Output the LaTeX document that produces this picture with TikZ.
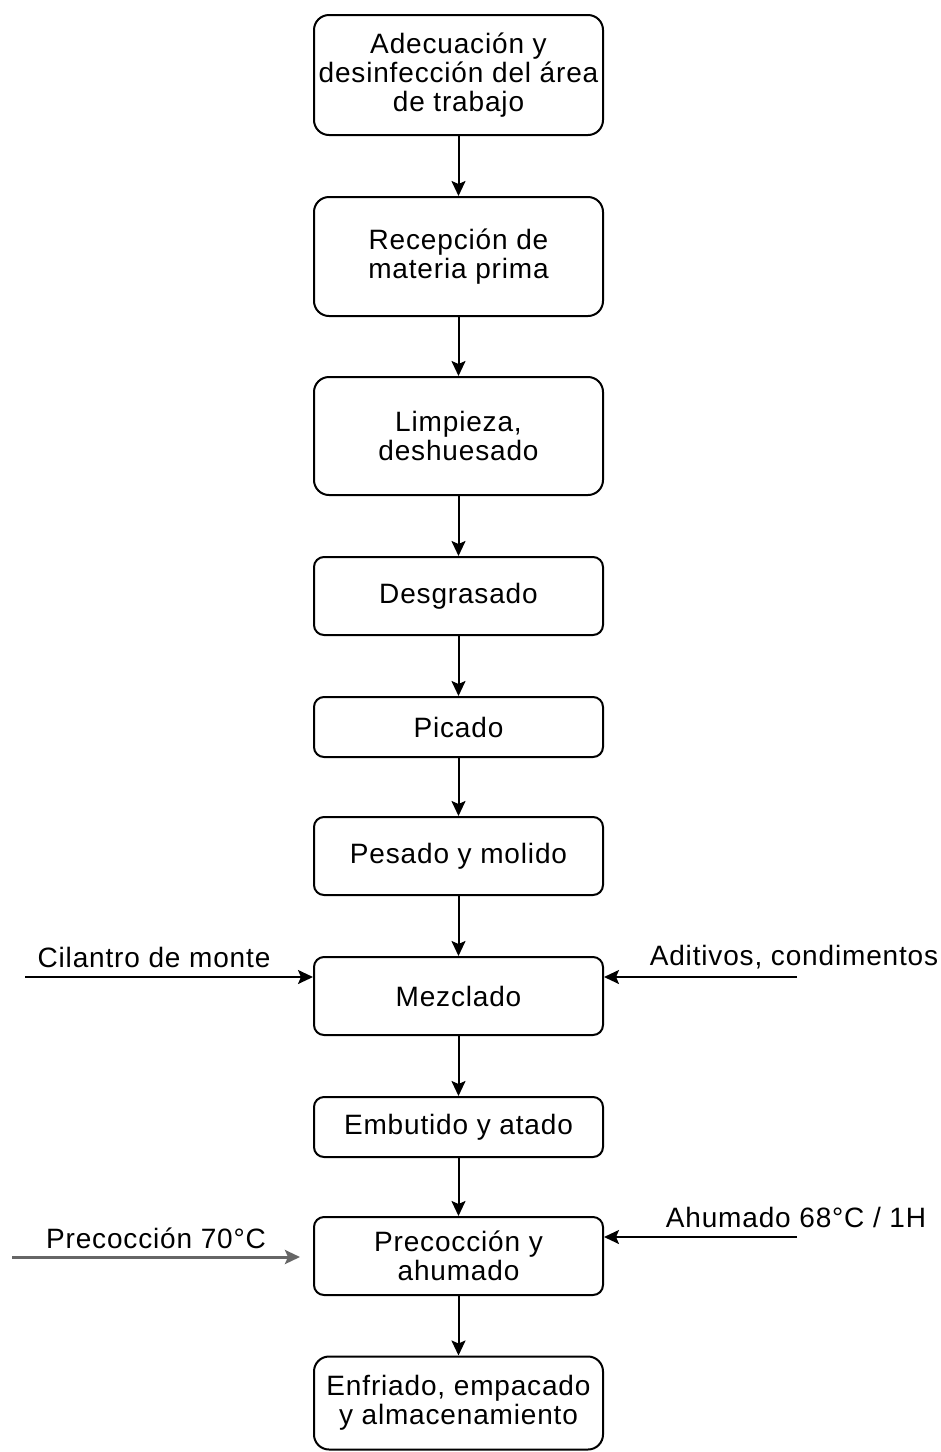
\documentclass[tikz,border=0pt]{standalone}
\usepackage{fontspec}
\setmainfont[LetterSpace=3]{Liberation Sans}
\usepackage{tikz}
\usetikzlibrary{arrows.meta}

\begin{document}
\begin{tikzpicture}[
    x=1pt,y=-1pt,
    >={Stealth[length=15pt,width=14pt,inset=3pt]},
    node font=\fontsize{28}{29}\selectfont,
    box/.style={draw,line width=2pt,rounded corners=15pt,align=center,minimum width=289pt,inner sep=2pt},
    smallbox/.style={box,rounded corners=10pt},
    arr/.style={->,line width=2pt},
    lbl/.style={inner sep=0pt}
]
\useasboundingbox (0,0) rectangle (941,1452);
\node[box,minimum height=120pt] (adec) at (458.5,75) {Adecuación y\\desinfección del área\\de trabajo};
\node[box,minimum height=119pt] (recep) at (458.5,256.5) {Recepción de\\materia prima};
\node[box,minimum height=118pt] (limp) at (458.5,436) {Limpieza,\\deshuesado};
\node[smallbox,minimum height=78pt] (desg) at (458.5,596) {Desgrasado};
\node[smallbox,minimum height=60pt] (pic) at (458.5,727) {Picado};
\node[smallbox,minimum height=78pt] (pes) at (458.5,856) {Pesado y molido};
\node[smallbox,minimum height=78pt] (mez) at (458.5,996) {Mezclado};
\node[smallbox,minimum height=60pt] (emb) at (458.5,1127) {Embutido y atado};
\node[smallbox,minimum height=78pt] (prec) at (458.5,1256) {Precocción y\\ahumado};
\node[box,minimum height=93pt] (enf) at (458.5,1403) {Enfriado, empacado\\y almacenamiento};
\draw[arr] (adec.south) -- (recep.north);
\draw[arr] (recep.south) -- (limp.north);
\draw[arr] (limp.south) -- (desg.north);
\draw[arr] (desg.south) -- (pic.north);
\draw[arr] (pic.south) -- (pes.north);
\draw[arr] (pes.south) -- (mez.north);
\draw[arr] (mez.south) -- (emb.north);
\draw[arr] (emb.south) -- (prec.north);
\draw[arr] (prec.south) -- (enf.north);

% side inputs
\coordinate (cil) at (25,977);
\coordinate (adit) at (797,977);
\coordinate (pre70) at (12,1257);
\coordinate (pre70e) at (300,1257);
\coordinate (ahum) at (797,1237);
\node[lbl] (cilt) at (154,957) {Cilantro de monte};
\node[lbl] (aditt) at (794,957) {Aditivos, condimentos};
\node[lbl] (pre70t) at (156,1238) {Precocción 70°C};
\node[lbl] (ahumt) at (796,1217) {Ahumado 68°C / 1H};
\draw[arr] (cil) -- (cil -| mez.west);
\draw[arr] (adit) -- (adit -| mez.east);
\draw[arr,draw=black!60,line width=3pt] (pre70) -- (pre70e);
\draw[arr] (ahum) -- (ahum -| prec.east);
\end{tikzpicture}
\end{document}
